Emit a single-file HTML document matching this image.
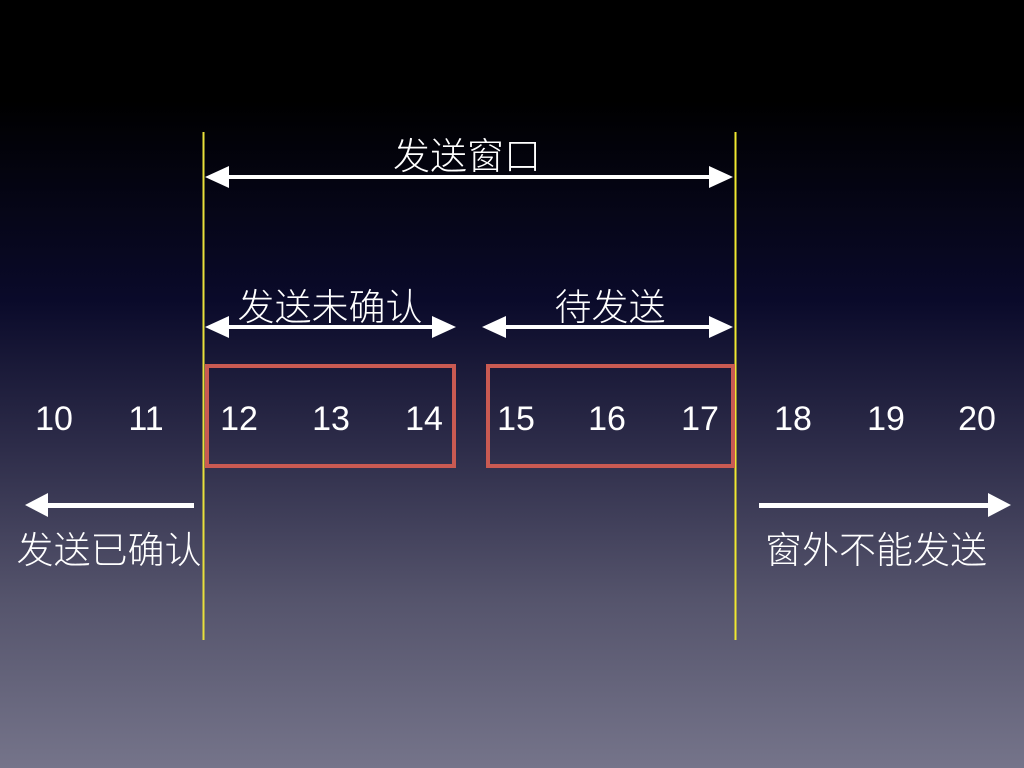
<!DOCTYPE html>
<html><head><meta charset="utf-8"><style>
html,body{margin:0;padding:0;width:1024px;height:768px;overflow:hidden}
body{background:linear-gradient(to bottom,#000 0px,#000 100px,#0a0a2a 300px,#2e2d4a 450px,#55546c 600px,#75748a 768px)}
svg{position:absolute;left:0;top:0}
text{font-family:"Liberation Sans","Noto Sans CJK SC",sans-serif;fill:#fff}
.cj{font-family:"Noto Sans CJK SC",sans-serif;font-weight:300}
</style></head><body>
<svg width="1024" height="768" viewBox="0 0 1024 768">
<line x1="203.5" y1="132" x2="203.5" y2="640" stroke="#e8e03a" stroke-width="2"/>
<line x1="735.5" y1="132" x2="735.5" y2="640" stroke="#f0e830" stroke-width="2"/>
<rect x="207" y="366" width="247" height="100" fill="none" stroke="#c95a52" stroke-width="4"/>
<rect x="488" y="366" width="245" height="100" fill="none" stroke="#c95a52" stroke-width="4"/>
<g fill="#fff">
<rect x="225" y="175" width="488" height="4"/>
<polygon points="205,177 229,166 229,188"/><polygon points="733,177 709,166 709,188"/>
<rect x="225" y="325" width="211" height="4"/>
<polygon points="205,327 229,316 229,338"/><polygon points="456,327 432,316 432,338"/>
<rect x="502" y="325" width="211" height="4"/>
<polygon points="482,327 506,316 506,338"/><polygon points="733,327 709,316 709,338"/>
<rect x="46" y="503" width="148" height="5"/>
<polygon points="25,505 48,493 48,517"/>
<rect x="759" y="503" width="232" height="5"/>
<polygon points="1011,505 988,493 988,517"/>
</g>
<g font-size="37" text-anchor="middle" class="cj">
<text class="cj" x="467" y="169">发送窗口</text>
<text class="cj" x="330" y="320">发送未确认</text>
<text class="cj" x="610" y="320">待发送</text>
<text class="cj" x="109" y="563">发送已确认</text>
<text class="cj" x="876" y="563">窗外不能发送</text>
</g>
<g font-size="34" text-anchor="middle">
<text x="54" y="430">10</text><text x="146" y="430">11</text><text x="239" y="430">12</text>
<text x="331" y="430">13</text><text x="424" y="430">14</text><text x="516" y="430">15</text>
<text x="607" y="430">16</text><text x="700" y="430">17</text><text x="793" y="430">18</text>
<text x="886" y="430">19</text><text x="977" y="430">20</text>
</g>
</svg>
</body></html>
